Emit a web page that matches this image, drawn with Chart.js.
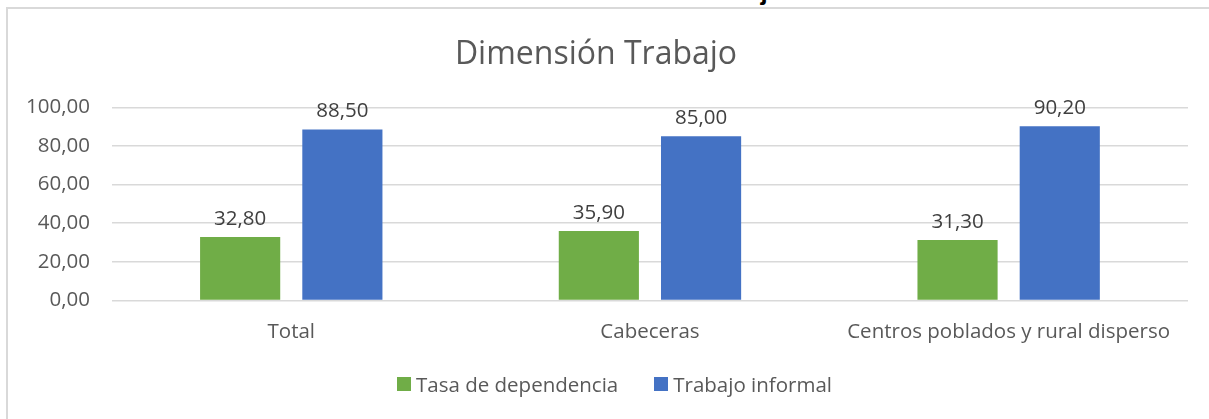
<!DOCTYPE html>
<html>
<head>
<meta charset="utf-8">
<script src="https://cdn.jsdelivr.net/npm/chart.js@4"></script>
<style>
  html, body { margin: 0; padding: 0; background: #fff; overflow: hidden; }
  #wrap { position: relative; width: 1209px; height: 419px; }
  #frame { position: absolute; left: 6px; top: 7px; right: -5px; bottom: -5px;
           border-left: 2px solid #d9d9d9; border-top: 2px solid #d9d9d9; }
  #cap { position: absolute; left: 0; width: 1209px; top: -24px; text-align: center;
         font: bold 26px "Liberation Sans", Arial, sans-serif; color: #000; }
  canvas { position: absolute; left: 0; top: 0; }
  #leyenda { position: absolute; left: 397px; top: 370px; display: flex; align-items: center;
             font: 20.5px 'Open Sans', 'Liberation Sans', sans-serif; color: #595959; white-space: nowrap; }
  #leyenda .item { display: flex; align-items: center; margin-right: 36px; }
  #leyenda .caja { width: 14px; height: 14px; margin-right: 5px; }
</style>
</head>
<body>
<div id="wrap">
  <div id="cap">Gráfica 1. Dimensión Trabajo</div>
  <div id="frame"></div>
  <canvas id="grafico" width="1209" height="419"></canvas>
  <div id="leyenda"></div>
</div>
<script>
// Datos
const categorias = ["Total", "Cabeceras", "Centros poblados y rural disperso"];
const tasaDependencia = [32.8, 35.9, 31.3];
const trabajoInformal = [88.5, 85.0, 90.2];
const ticksY = [0, 20, 40, 60, 80, 100];

const fuente = "'Open Sans', 'Liberation Sans', sans-serif";
const tam = 20.5;

function coma(v) {
  return v.toFixed(2).replace(".", ",");
}

// etiquetas encima de las barras
const etiquetas = {
  id: "etiquetas",
  afterDatasetsDraw(chart) {
    const ctx = chart.ctx;
    ctx.save();
    ctx.font = tam + "px " + fuente;
    ctx.fillStyle = "#404040";
    ctx.textAlign = "center";
    ctx.textBaseline = "bottom";
    chart.data.datasets.forEach(function (ds, i) {
      chart.getDatasetMeta(i).data.forEach(function (bar, j) {
        ctx.fillText(coma(ds.data[j]), bar.x, bar.y - 8);
      });
    });
    ctx.restore();
  }
};

const ctx = document.getElementById("grafico").getContext("2d");
const grafico = new Chart(ctx, {
  type: "bar",
  data: {
    labels: categorias,
    datasets: [
      { label: "Tasa de dependencia", data: tasaDependencia, backgroundColor: "#70ad47" },
      { label: "Trabajo informal", data: trabajoInformal, backgroundColor: "#4472c4" }
    ]
  },
  options: {
    responsive: false,
    animation: false,
    layout: { padding: { top: 36, left: 4, right: 21, bottom: 64 } },
    datasets: {
      bar: { barPercentage: 0.784, categoryPercentage: 0.57 }
    },
    plugins: {
      title: {
        display: true,
        text: "Dimensión Trabajo",
        color: "#595959",
        font: { family: fuente, size: 32, weight: "normal" },
        padding: { top: 0, bottom: 33 }
      },
      legend: { display: false },
      tooltip: { enabled: false }
    },
    scales: {
      x: {
        grid: { display: false },
        border: { display: false },
        ticks: { color: "#595959", font: { family: fuente, size: tam }, padding: 11 }
      },
      y: {
        min: 0,
        max: 100,
        afterBuildTicks(axis) { axis.ticks = ticksY.map(v => ({ value: v })); },
        grid: { color: "#d9d9d9", lineWidth: 1.5, drawTicks: false },
        border: { display: false },
        ticks: {
          color: "#595959",
          font: { family: fuente, size: tam },
          padding: 22,
          callback: v => coma(v)
        }
      }
    }
  },
  plugins: [etiquetas]
});

// leyenda con los mismos datasets
const leyenda = document.getElementById("leyenda");
grafico.data.datasets.forEach(function (ds) {
  const item = document.createElement("span");
  item.className = "item";
  const caja = document.createElement("span");
  caja.className = "caja";
  caja.style.background = ds.backgroundColor;
  item.appendChild(caja);
  item.appendChild(document.createTextNode(ds.label));
  leyenda.appendChild(item);
});
</script>
</body>
</html>
